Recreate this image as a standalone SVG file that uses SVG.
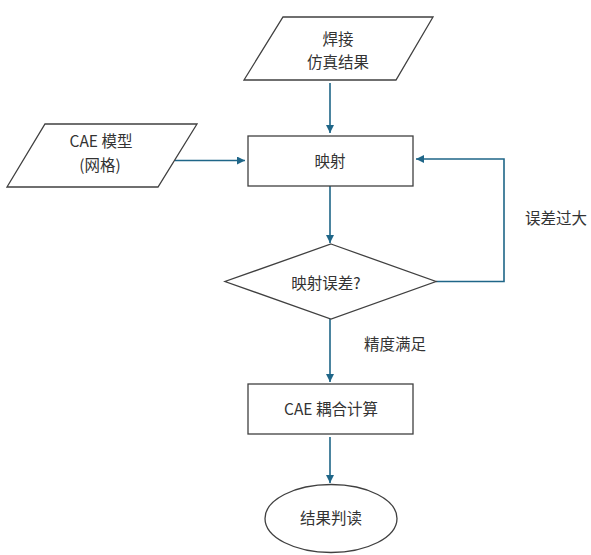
<svg xmlns="http://www.w3.org/2000/svg" width="591" height="555" viewBox="0 0 591 555">
<style>
.shape{fill:#fff;stroke:#404040;stroke-width:1.3}
.t{font-family:"Noto Sans CJK SC","Liberation Sans",sans-serif;font-size:15.5px;fill:#333;text-anchor:middle;dominant-baseline:central}
.c{fill:none;stroke:#1f6688;stroke-width:1.6}
</style>
<defs>
<marker id="ah" viewBox="0 0 10 10" refX="10" refY="5" markerWidth="8" markerHeight="8" markerUnits="userSpaceOnUse" orient="auto">
<path d="M0,0 L10,5 L0,10 z" fill="#1f6688"/>
</marker>
</defs>
<rect width="591" height="555" fill="#fff"/>
<g id="connectors">
<path class="c" d="M330,83 V133" marker-end="url(#ah)"/>
<path class="c" d="M175,160.5 H245" marker-end="url(#ah)"/>
<path class="c" d="M330,186 V243" marker-end="url(#ah)"/>
<path class="c" d="M436,281.5 H504 V159 H416" marker-end="url(#ah)"/>
<path class="c" d="M330,319 V382" marker-end="url(#ah)"/>
<path class="c" d="M330,437 V483" marker-end="url(#ah)"/>
</g>
<g id="n_weld">
<polygon class="shape" points="283,17 433,17 396,80 244,80"/>
<text class="t" x="338" y="38">焊接</text>
<text class="t" x="338" y="61">仿真结果</text>
</g>
<g id="n_cae">
<polygon class="shape" points="45,124 197,124 158,187 7,187"/>
<text class="t" x="101" y="140">CAE 模型</text>
<text class="t" x="100" y="164">(网格)</text>
</g>
<g id="n_map">
<rect class="shape" x="248" y="136" width="165" height="50"/>
<text class="t" x="330" y="160">映射</text>
</g>
<g id="n_dec">
<polygon class="shape" points="331,244 436,281.5 331,319 225,281.5"/>
<text class="t" x="326" y="282">映射误差?</text>
</g>
<g id="n_couple">
<rect class="shape" x="248" y="384" width="165" height="50"/>
<text class="t" x="331" y="408">CAE 耦合计算</text>
</g>
<g id="n_result">
<ellipse class="shape" cx="331" cy="518.5" rx="66" ry="34"/>
<text class="t" x="331" y="517">结果判读</text>
</g>
<g id="labels">
<text class="t" x="556" y="217">误差过大</text>
<text class="t" x="395" y="343">精度满足</text>
</g>
</svg>
